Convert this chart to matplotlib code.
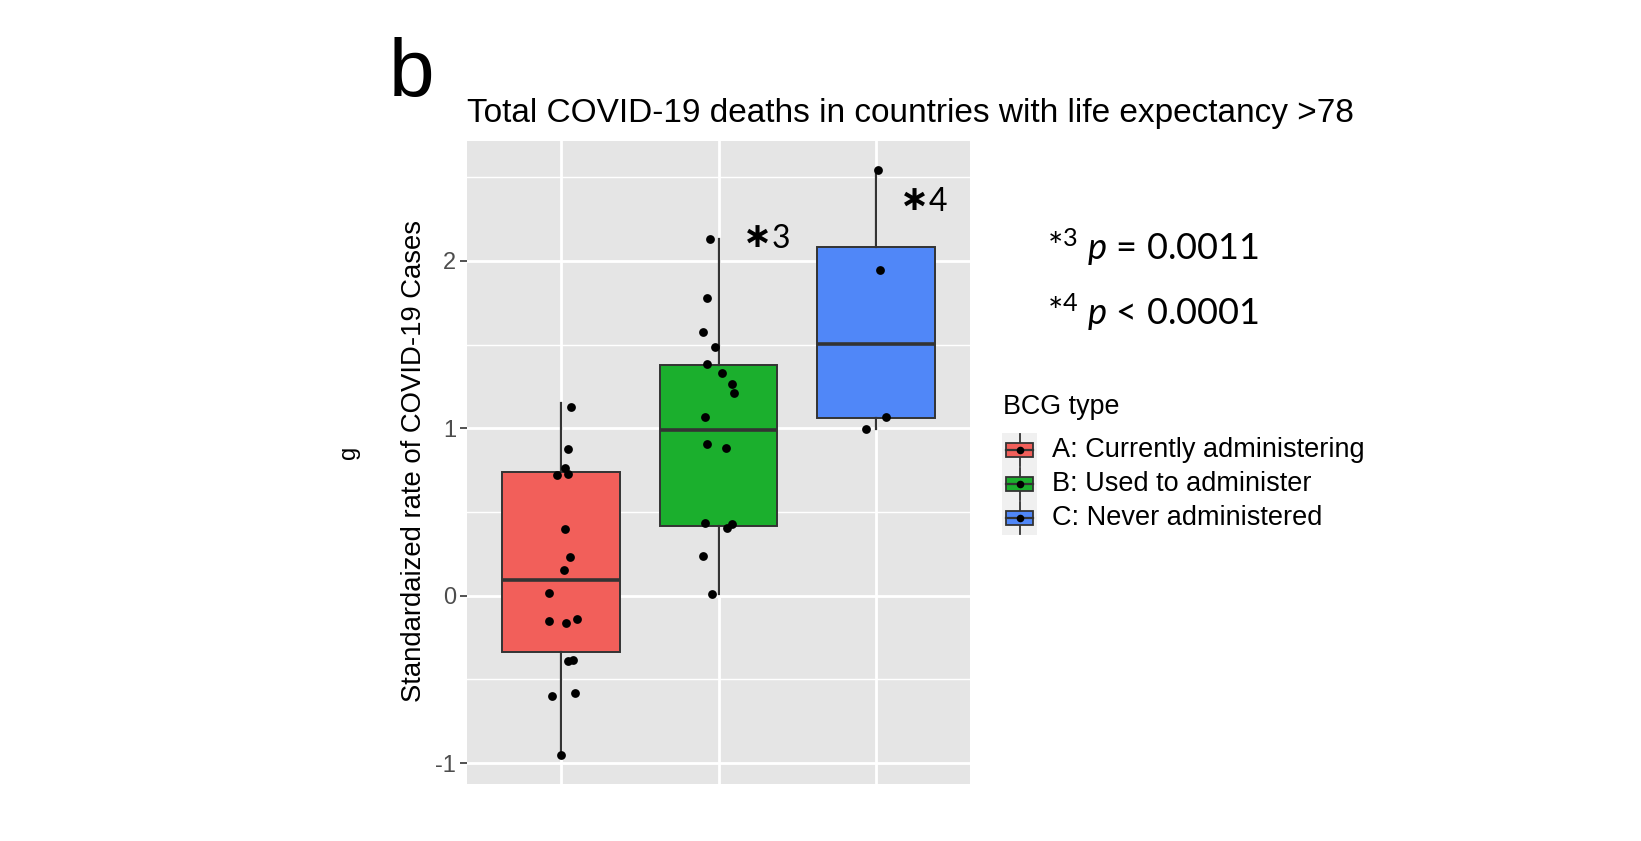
import matplotlib.pyplot as plt
from matplotlib.patches import Rectangle

plt.rcParams['font.family'] = ['Liberation Sans', 'DejaVu Sans']
plt.rcParams['mathtext.fontset'] = 'custom'
plt.rcParams['mathtext.rm'] = 'Lato'
plt.rcParams['mathtext.it'] = 'Lato:italic'

# data
groups = ["A: Currently administering", "B: Used to administer", "C: Never administered"]
colors = ["#F25F5A", "#1BAF2D", "#5087F8"]

points_a = [1.13, 0.876, 0.76, 0.72, 0.724, 0.397, 0.232, 0.152, 0.017, -0.152,
            -0.166, -0.14, -0.39, -0.385, -0.60, -0.58, -0.95]
jitter_a = [0.063, 0.042, 0.021, -0.028, 0.042, 0.025, 0.053, 0.015, -0.08, -0.076,
            0.028, 0.10, 0.04, 0.072, -0.057, 0.085, 0.0]
points_b = [2.13, 1.776, 1.573, 1.485, 1.382, 1.332, 1.266, 1.212, 1.069, 0.904,
            0.88, 0.435, 0.431, 0.402, 0.24, 0.013]
jitter_b = [-0.057, -0.074, -0.097, -0.024, -0.07, 0.021, 0.089, 0.097, -0.089, -0.07,
            0.045, -0.083, 0.085, 0.053, -0.10, -0.04]
points_c = [2.543, 1.946, 1.069, 0.995]
jitter_c = [0.017, 0.025, 0.066, -0.059]

# box statistics as drawn
q1 = [-0.336, 0.415, 1.059]
med = [0.093, 0.989, 1.503]
q3 = [0.74, 1.378, 2.081]
whislo = [-0.95, 0.013, 0.995]
whishi = [1.15, 2.13, 2.543]

yticks = [-1, 0, 1, 2]

fig = plt.figure(figsize=(16.41, 8.41), dpi=100)
ax = fig.add_axes([467 / 1641, 1 - 784 / 841, 503 / 1641, (784 - 140.7) / 841])
ax.set_facecolor("#E5E5E5")

stats = [dict(med=m, q1=a, q3=b, whislo=lo, whishi=hi, fliers=[])
         for m, a, b, lo, hi in zip(med, q1, q3, whislo, whishi)]
bp = ax.bxp(stats, positions=[1, 2, 3], widths=0.75, patch_artist=True,
            showcaps=False, showfliers=False,
            boxprops=dict(edgecolor="#333333", linewidth=1.4),
            whiskerprops=dict(color="#333333", linewidth=1.6),
            medianprops=dict(color="#333333", linewidth=2.6), zorder=3)
for patch, c in zip(bp["boxes"], colors):
    patch.set_facecolor(c)

for i, (pts, jit) in enumerate([(points_a, jitter_a), (points_b, jitter_b), (points_c, jitter_c)]):
    ax.scatter([i + 1 + j for j in jit], pts, s=40, color="black", zorder=4, linewidths=0)

ax.set_xlim(0.4, 3.6)
ax.set_ylim(-1.125, 2.718)
ax.set_yticks(yticks)
ax.set_yticklabels([str(t) for t in yticks])
ax.set_yticks([-0.5, 0.5, 1.5, 2.5], minor=True)
ax.set_xticks([1, 2, 3])
ax.set_xticklabels([])
ax.tick_params(axis="x", length=0)
ax.tick_params(axis="y", which="major", length=5, width=1.2, color="#333333",
               labelsize=17, labelcolor="#4D4D4D", pad=3)
ax.tick_params(axis="y", which="minor", length=0)
ax.grid(True, which="major", color="white", linewidth=2.0)
ax.grid(True, which="minor", axis="y", color="white", linewidth=1.0)
ax.set_axisbelow(True)
for s in ax.spines.values():
    s.set_visible(False)

ax.text(2.245, 2.145, "\u2217", fontsize=25, fontweight="bold", family="DejaVu Sans",
        ha="center", va="center")
ax.text(2.335, 2.13, "3", fontsize=23, family="Lato", ha="left", va="center")
ax.text(3.245, 2.365, "\u2217", fontsize=25, fontweight="bold", family="DejaVu Sans",
        ha="center", va="center")
ax.text(3.335, 2.35, "4", fontsize=23, family="Lato", ha="left", va="center")

# overlay in pixel coordinates for labels and legend
ov = fig.add_axes([0, 0, 1, 1])
ov.set_xlim(0, 1641)
ov.set_ylim(841, 0)
ov.axis("off")

ov.text(389, 96, "b", fontsize=59, ha="left", va="baseline")
ov.text(467, 122, "Total COVID-19 deaths in countries with life expectancy >78",
        fontsize=24.0, ha="left", va="baseline")
ov.text(414, 461, "Standardaized rate of COVID-19 Cases", fontsize=19.8,
        rotation=90, ha="center", va="center")
ov.text(349, 452, "g", fontsize=17, rotation=90, ha="center", va="center")

ov.text(1047, 247, "*$^{3}$ $p$ = 0.0011", fontsize=26, family="Lato",
        ha="left", va="center")
ov.text(1047, 312, "*$^{4}$ $p$ < 0.0001", fontsize=26, family="Lato",
        ha="left", va="center")

ov.text(1003, 407, "BCG type", fontsize=19.4, ha="left", va="center")
key_y = [450, 484, 518]
ov.add_patch(Rectangle((1002, 433), 35, 102, facecolor="#F0F0F0", edgecolor="none"))
for label, c, yc in zip(groups, colors, key_y):
    ov.plot([1019.5, 1019.5], [yc - 16, yc + 16], color="#333333", lw=1.3)
    ov.add_patch(Rectangle((1006, yc - 7), 27, 14, facecolor=c,
                           edgecolor="#333333", lw=1.3, zorder=3))
    ov.plot([1006, 1033], [yc, yc], color="#333333", lw=1.6, zorder=4)
    ov.scatter([1019.5], [yc], s=30, color="black", zorder=5, linewidths=0)
    ov.text(1052, yc, label, fontsize=19.5, ha="left", va="center")

fig.savefig("out.png", dpi=100, facecolor="white")
